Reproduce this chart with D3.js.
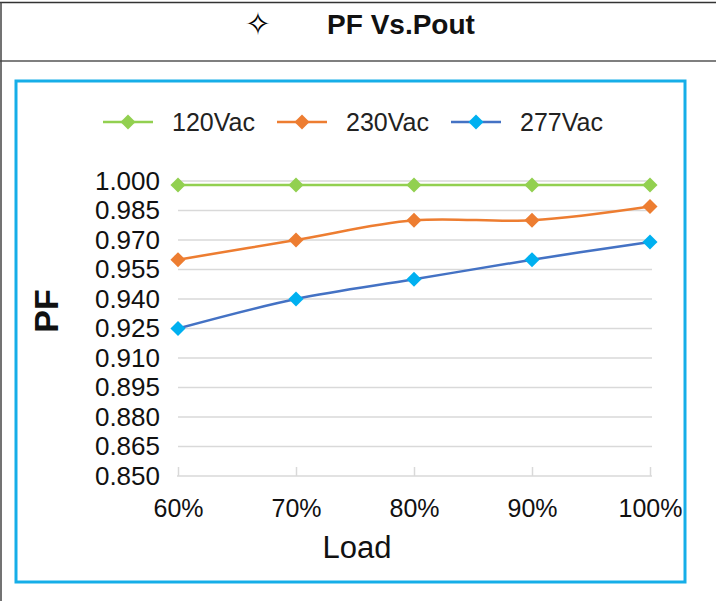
<!DOCTYPE html>
<html>
<head>
<meta charset="utf-8">
<script src="https://cdn.jsdelivr.net/npm/d3@7"></script>
<style>
  body { margin: 0; background: #fff; }
  text { font-family: "Liberation Sans", Arial, sans-serif; }
</style>
</head>
<body>
<svg id="chart" width="716" height="601"></svg>
<script>
const loads = ['60%', '70%', '80%', '90%', '100%'];
const pf120 = [0.998, 0.998, 0.998, 0.998, 0.998];
const pf230 = [0.960, 0.970, 0.980, 0.980, 0.987];
const pf277 = [0.925, 0.940, 0.950, 0.960, 0.969];
const yTicks = [0.850, 0.865, 0.880, 0.895, 0.910, 0.925, 0.940, 0.955, 0.970, 0.985, 1.000];

const series = [
    {name: '120Vac', values: pf120, line: '#92d050', marker: '#92d050'},
    {name: '230Vac', values: pf230, line: '#ed7d31', marker: '#ed7d31'},
    {name: '277Vac', values: pf277, line: '#4472c4', marker: '#00b0f0'}
];

const svg = d3.select('#chart');

// table frame
svg.append('line').attr('x1', 0).attr('x2', 716).attr('y1', 2.5).attr('y2', 2.5)
    .attr('stroke', '#333').attr('stroke-width', 1.5);
svg.append('line').attr('x1', 0).attr('x2', 716).attr('y1', 61).attr('y2', 61)
    .attr('stroke', '#555').attr('stroke-width', 1.5);
svg.append('line').attr('x1', 1).attr('x2', 1).attr('y1', 2).attr('y2', 601)
    .attr('stroke', '#444').attr('stroke-width', 1.5);

svg.append('text').attr('x', 258).attr('y', 35).attr('text-anchor', 'middle')
    .style('font-family', 'DejaVu Sans').attr('font-size', 32).text('\u2727');
svg.append('text').attr('x', 401).attr('y', 34).attr('text-anchor', 'middle')
    .attr('font-size', 28).attr('font-weight', 'bold').attr('fill', '#111').text('PF Vs.Pout');

// blue chart box
svg.append('rect').attr('x', 16).attr('y', 81).attr('width', 669).attr('height', 501)
    .attr('fill', '#fff').attr('stroke', '#16aee8').attr('stroke-width', 3);

const x = d3.scalePoint().domain(loads).range([178, 650]);
const y = d3.scaleLinear().domain([0.850, 1.000]).range([476, 181]);

const g = svg.append('g');

// gridlines
g.selectAll('.grid').data(yTicks.slice(1)).join('line')
    .attr('x1', 178).attr('x2', 652)
    .attr('y1', d => y(d)).attr('y2', d => y(d))
    .attr('stroke', '#d9d9d9').attr('stroke-width', 1.5);

// y axis labels
const yAxis = d3.axisLeft(y).tickValues(yTicks).tickFormat(d3.format('.3f')).tickSize(0).tickPadding(0);
g.append('g').attr('transform', 'translate(160,0)').call(yAxis)
    .call(a => a.select('.domain').remove())
    .selectAll('text').attr('font-size', 26).attr('fill', '#111')
    .style('font-family', '"Liberation Sans", Arial, sans-serif');

// x axis
const xAxis = d3.axisBottom(x).tickSizeInner(-9).tickSizeOuter(0).tickPadding(0);
const xg = g.append('g').attr('transform', 'translate(0,476)').call(xAxis);
xg.select('.domain').attr('stroke', '#d9d9d9').attr('stroke-width', 1.5).attr('d', 'M177,0H652');
xg.selectAll('.tick line').attr('stroke', '#d9d9d9').attr('stroke-width', 1.5);
xg.selectAll('text').attr('font-size', 25).attr('fill', '#111').attr('dy', 0).attr('y', 41)
    .style('font-family', '"Liberation Sans", Arial, sans-serif');

// axis titles
svg.append('text').attr('x', 357).attr('y', 558).attr('text-anchor', 'middle')
    .attr('font-size', 31).attr('fill', '#111').text('Load');
svg.append('text').attr('transform', 'translate(58,311) rotate(-90)').attr('text-anchor', 'middle')
    .attr('font-size', 34).attr('font-weight', 'bold').attr('fill', '#111').text('PF');

// lines and markers
const line = d3.line().x((d, i) => x(loads[i])).y(d => y(d)).curve(d3.curveCatmullRom.alpha(0.5));
const diamond = d3.symbol().type(d3.symbolDiamond2).size(145);

series.forEach(s => {
    g.append('path').attr('d', line(s.values)).attr('fill', 'none')
        .attr('stroke', s.line).attr('stroke-width', 2.5);
    g.selectAll(null).data(s.values).join('path')
        .attr('transform', (d, i) => `translate(${x(loads[i])},${y(d)})`)
        .attr('d', diamond).attr('fill', s.marker);
});

// legend
const legendX = [103, 277, 451];
series.forEach((s, i) => {
    const lg = svg.append('g').attr('transform', `translate(${legendX[i]},122)`);
    lg.append('line').attr('x1', 0).attr('x2', 50).attr('stroke', s.line).attr('stroke-width', 2.5);
    lg.append('path').attr('transform', 'translate(25,0)').attr('d', diamond).attr('fill', s.marker);
    lg.append('text').attr('x', 69).attr('y', 9).attr('font-size', 25).attr('fill', '#222').text(s.name);
});
</script>
</body>
</html>
